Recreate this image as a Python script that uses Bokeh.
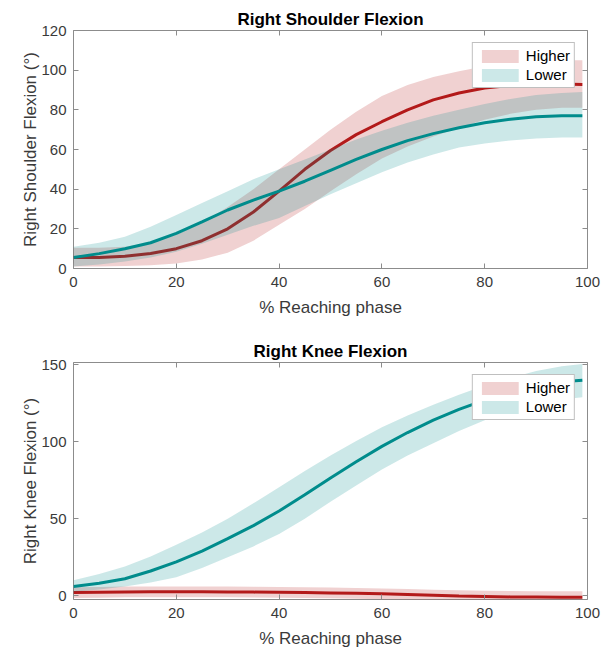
from bokeh.plotting import figure
from bokeh.layouts import column
from bokeh.models import LinearAxis, Range1d, FixedTicker, Legend, LegendItem
from bokeh.embed import file_html
from bokeh.resources import INLINE

# ---------------- data ----------------
x = [0, 5, 10, 15, 20, 25, 30, 35, 40, 45, 50, 55, 60, 65, 70, 75, 80, 85, 90, 95, 99]

# Right Shoulder Flexion
sh_high_mean = [5.5, 5.6, 6.2, 7.6, 10.0, 14.0, 20.0, 28.5, 39.0, 50.0, 59.5, 67.5, 74.0, 80.0, 85.0, 88.5, 91.0, 92.3, 93.0, 93.0, 92.8]
sh_high_up   = [10.5, 10.5, 11.0, 13.0, 17.0, 23.0, 31.0, 40.0, 50.0, 60.0, 70.0, 79.0, 87.0, 92.5, 96.5, 99.5, 102.0, 103.5, 104.5, 105.0, 105.0]
sh_high_lo   = [1.0, 1.0, 1.2, 1.7, 2.5, 4.5, 8.0, 14.0, 22.0, 30.0, 39.0, 47.5, 55.5, 61.5, 66.5, 71.0, 75.0, 78.0, 80.0, 81.0, 81.0]
sh_low_mean  = [5.5, 7.5, 10.0, 13.0, 17.7, 23.5, 29.5, 34.5, 39.0, 44.0, 49.5, 55.0, 60.0, 64.5, 68.0, 71.0, 73.5, 75.3, 76.5, 77.0, 77.0]
sh_low_up    = [11.0, 13.0, 16.0, 21.0, 27.0, 33.0, 39.0, 45.0, 50.0, 55.0, 60.0, 65.0, 69.5, 73.5, 77.0, 80.0, 83.0, 85.5, 87.5, 88.5, 89.0]
sh_low_lo    = [1.0, 2.0, 3.5, 5.5, 8.5, 12.5, 17.0, 21.5, 25.5, 31.5, 37.5, 43.0, 48.5, 53.5, 57.5, 61.0, 63.0, 64.5, 65.5, 66.0, 66.0]

# Right Knee Flexion
kn_high_mean = [2.0, 2.2, 2.4, 2.5, 2.5, 2.5, 2.4, 2.3, 2.2, 2.0, 1.8, 1.5, 1.2, 0.8, 0.3, -0.2, -0.5, -0.8, -0.9, -1.0, -1.0]
kn_high_up   = [5.5, 5.7, 5.9, 6.0, 6.0, 6.0, 5.9, 5.8, 5.7, 5.5, 5.3, 5.0, 4.7, 4.3, 3.9, 3.5, 3.2, 3.0, 2.9, 2.8, 2.8]
kn_high_lo   = [-1.5, -1.3, -1.1, -1.0, -1.0, -1.0, -1.1, -1.2, -1.3, -1.5, -1.7, -2.0, -2.3, -2.7, -3.2, -3.7, -4.1, -4.5, -4.7, -4.8, -4.8]
kn_low_mean  = [6.0, 8.0, 11.0, 16.0, 22.0, 29.0, 37.0, 45.5, 55.0, 65.5, 76.5, 87.0, 97.0, 106.0, 114.0, 121.0, 127.0, 132.0, 136.0, 139.0, 140.0]
kn_low_up    = [10.0, 14.0, 19.0, 25.5, 33.0, 41.0, 50.0, 60.0, 70.5, 81.0, 91.0, 100.5, 109.5, 117.0, 124.0, 130.5, 136.5, 141.5, 146.0, 149.0, 150.5]
kn_low_lo    = [2.5, 4.0, 6.0, 8.5, 12.0, 18.0, 25.0, 32.0, 40.0, 50.0, 61.0, 71.5, 82.0, 91.0, 99.0, 107.0, 114.0, 119.5, 124.0, 127.5, 129.0]

x_ticks = [0, 20, 40, 60, 80, 100]
sh_yticks = [0, 20, 40, 60, 80, 100, 120]
kn_yticks = [0, 50, 100, 150]
group_names = ["Higher", "Lower"]

RED = "#B31A1A"
TEAL = "#008C8C"
FONT = "Liberation Sans"
AX = "#8c8c8c"
TXT = "#3a3a3a"


def make(title, ylabel, yr, yticks, series, height, top_b, bottom_b):
    p = figure(width=607, height=height, x_range=Range1d(0, 100), y_range=Range1d(*yr),
               output_backend="svg", toolbar_location=None,
               min_border_left=73, min_border_right=20,
               min_border_top=top_b, min_border_bottom=bottom_b)
    p.title.text = title
    p.title.align = "center"
    p.title.text_font = FONT
    p.title.text_font_size = "17px"
    p.title.text_font_style = "bold"
    p.title.text_color = "black"
    p.title.standoff = 4
    p.grid.visible = False
    p.outline_line_color = AX
    p.outline_line_width = 1
    p.background_fill_color = "white"
    p.border_fill_color = "white"

    items = []
    colors = [RED, TEAL]
    for (m, lo, up), c, name in zip(series, colors, group_names):
        va = p.varea(x=x, y1=lo, y2=up, fill_color=c, fill_alpha=0.2)
        p.line(x=x, y=m, line_color=c, line_width=3)
        items.append(LegendItem(label=name, renderers=[va]))

    legend = Legend(items=items, location="top_right")
    legend.label_text_font = FONT
    legend.label_text_font_size = "15px"
    legend.label_text_color = "black"
    legend.glyph_width = 46
    legend.glyph_height = 16
    legend.padding = 4
    legend.spacing = 2
    legend.label_standoff = 3
    legend.margin = 12
    legend.border_line_color = "#7f7f7f"
    legend.border_line_width = 1
    legend.background_fill_alpha = 1
    p.add_layout(legend)

    for ax in (p.xaxis[0], p.yaxis[0]):
        ax.axis_line_color = None
        ax.major_tick_line_color = AX
        ax.major_tick_in = 5
        ax.major_tick_out = 0
        ax.minor_tick_line_color = None
        ax.major_label_text_font = FONT
        ax.major_label_text_font_size = "15px"
        ax.major_label_text_color = TXT
        ax.axis_label_text_font = FONT
        ax.axis_label_text_font_size = "17px"
        ax.axis_label_text_font_style = "normal"
        ax.axis_label_text_color = TXT
    p.xaxis[0].ticker = FixedTicker(ticks=x_ticks)
    p.yaxis[0].ticker = FixedTicker(ticks=yticks)
    p.xaxis[0].axis_label = "% Reaching phase"
    p.yaxis[0].axis_label = ylabel
    p.xaxis[0].major_label_standoff = 8
    p.xaxis[0].axis_label_standoff = 8
    p.yaxis[0].major_label_standoff = 7
    p.yaxis[0].axis_label_standoff = -2

    for loc, tk in (("above", x_ticks), ("right", yticks)):
        ax = LinearAxis(ticker=FixedTicker(ticks=tk))
        ax.axis_line_color = None
        ax.major_tick_line_color = AX
        ax.major_tick_in = 5
        ax.major_tick_out = 0
        ax.minor_tick_line_color = None
        ax.major_label_text_font_size = "0px"
        ax.major_label_standoff = 0
        ax.major_label_text_alpha = 0
        p.add_layout(ax, loc)
    return p


p1 = make("Right Shoulder Flexion", "Right Shoulder Flexion (°)", (0, 120), sh_yticks,
          [(sh_high_mean, sh_high_lo, sh_high_up), (sh_low_mean, sh_low_lo, sh_low_up)],
          height=324, top_b=30, bottom_b=56)
p2 = make("Right Knee Flexion", "Right Knee Flexion (°)", (-2.5, 151.5), kn_yticks,
          [(kn_high_mean, kn_high_lo, kn_high_up), (kn_low_mean, kn_low_lo, kn_low_up)],
          height=326, top_b=38, bottom_b=50)

layout = column(p1, p2, spacing=0)
open("out.html", "w").write(file_html(layout, INLINE))
